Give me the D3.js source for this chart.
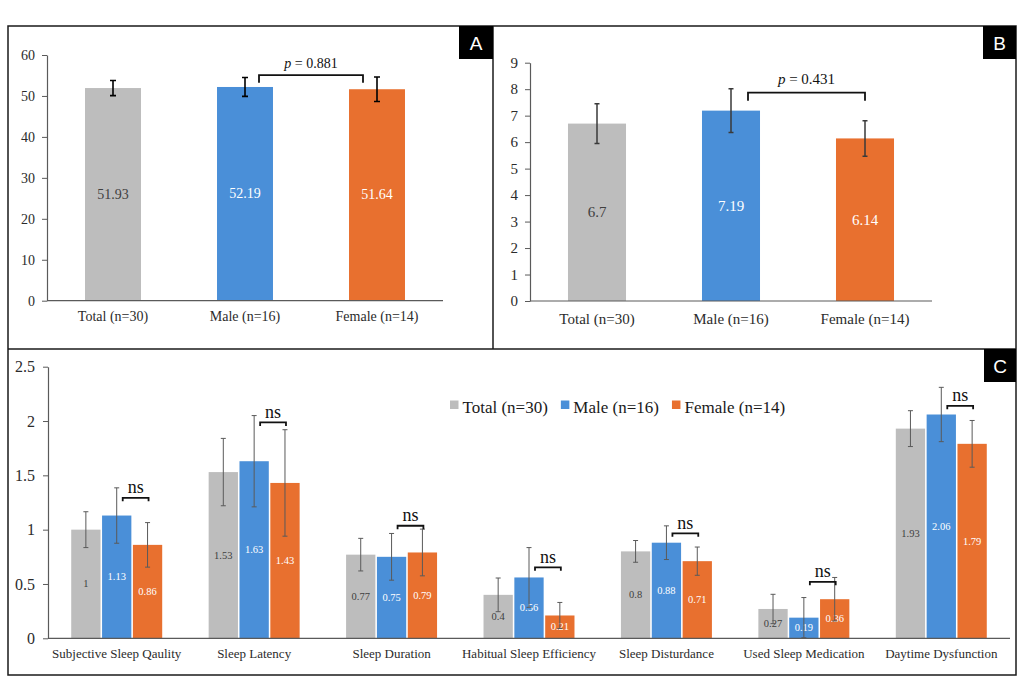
<!DOCTYPE html>
<html>
<head>
<meta charset="utf-8">
<script src="https://cdn.jsdelivr.net/npm/d3@7/dist/d3.min.js"></script>
<style>
  html, body { margin: 0; padding: 0; background: #fff; }
  svg { display: block; }
</style>
</head>
<body>
<script>
// ---------------- DATA ----------------
const groupsAB = ["Total (n=30)", "Male (n=16)", "Female (n=14)"];
const valuesA = [51.93, 52.19, 51.64];
const errorsA = [1.85, 2.3, 3.0];
const ticksA = [0, 10, 20, 30, 40, 50, 60];
const pTextA = "0.881";
const bracketA = [55.1, 53.2];   // bracket top / leg end (data units)

const valuesB = [6.7, 7.19, 6.14];
const errorsB = [0.75, 0.83, 0.67];
const ticksB = [0, 1, 2, 3, 4, 5, 6, 7, 8, 9];
const pTextB = "0.431";
const bracketB = [7.87, 7.56];

const categoriesC = ["Subjective Sleep Qaulity", "Sleep Latency", "Sleep Duration",
  "Habitual Sleep Efficiency", "Sleep Disturdance", "Used Sleep Medication", "Daytime Dysfunction"];
const seriesC = ["Total (n=30)", "Male (n=16)", "Female (n=14)"];
const totalC  = [1, 1.53, 0.77, 0.4, 0.8, 0.27, 1.93];
const maleC   = [1.13, 1.63, 0.75, 0.56, 0.88, 0.19, 2.06];
const femaleC = [0.86, 1.43, 0.79, 0.21, 0.71, 0.36, 1.79];
const totalErrC  = [0.165, 0.31, 0.15, 0.155, 0.10, 0.135, 0.165];
const maleErrC   = [0.255, 0.42, 0.215, 0.275, 0.155, 0.185, 0.25];
const femaleErrC = [0.205, 0.49, 0.215, 0.12, 0.13, 0.20, 0.215];
const nsLevelC = [1.293, 1.987, 1.036, 0.653, 0.966, 0.52, 2.14];
const ticksC = [0, 0.5, 1, 1.5, 2, 2.5];

// ---------------- STYLE ----------------
const colors = ["#BDBDBD", "#4A8FD8", "#E8702F"];
const labelColors = ["#404040", "#ffffff", "#ffffff"];
const serif = "'Liberation Serif', 'Times New Roman', serif";
const sans = "'Liberation Sans', Arial, sans-serif";

const svg = d3.select("body").append("svg").attr("width", 1024).attr("height", 700);
svg.append("rect").attr("width", 1024).attr("height", 700).attr("fill", "#fff");

// frame
const frame = svg.append("g").attr("stroke", "#1a1a1a").attr("stroke-width", 1.5).attr("fill", "none");
frame.append("rect").attr("x", 8).attr("y", 26).attr("width", 1008).attr("height", 649);
frame.append("line").attr("x1", 8).attr("x2", 1016).attr("y1", 349).attr("y2", 349);
frame.append("line").attr("x1", 493).attr("x2", 493).attr("y1", 26).attr("y2", 349);

function panelTag(x, y, w, h, t) {
  svg.append("rect").attr("x", x).attr("y", y).attr("width", w).attr("height", h).attr("fill", "#000");
  svg.append("text").attr("x", x + w / 2).attr("y", y + h / 2 + 1).attr("text-anchor", "middle")
    .attr("dominant-baseline", "central").attr("fill", "#fff")
    .attr("font-family", sans).attr("font-size", 19).text(t);
}

function styleAxis(g, fs) {
  g.selectAll(".domain").attr("stroke", "#5a5a5a").attr("stroke-width", 1.2);
  g.selectAll(".tick line").attr("stroke", "#5a5a5a").attr("stroke-width", 1);
  g.selectAll("text").attr("font-family", serif).attr("font-size", fs).attr("fill", "#2b2b2b");
}

function bracket(g, x1, x2, yTop, yLeg) {
  g.append("path")
    .attr("d", `M${x1},${yLeg}V${yTop}H${x2}V${yLeg}`)
    .attr("fill", "none").attr("stroke", "#111").attr("stroke-width", 1.8);
}

// ---------------- PANELS A & B ----------------
function simplePanel(opts) {
  const { xr, y0, yTop, max, ticks, values, errors, fs, xfs, vfs, pfs, xPad, pText, br, brX, errColor, errW, cap, pGap } = opts;
  const x = d3.scaleBand().domain(groupsAB).range(xr).paddingInner(opts.pi).paddingOuter(opts.pi / 2);
  const y = d3.scaleLinear().domain([0, max]).range([y0, yTop]);
  const g = svg.append("g");

  g.selectAll("rect.bar").data(values).join("rect")
    .attr("x", (d, i) => x(groupsAB[i])).attr("width", x.bandwidth())
    .attr("y", d => y(d)).attr("height", d => y(0) - y(d))
    .attr("fill", (d, i) => colors[i]);

  const ya = g.append("g").attr("transform", `translate(${xr[0]},0)`)
    .call(d3.axisLeft(y).tickValues(ticks).tickSize(5).tickSizeOuter(0).tickPadding(7));
  styleAxis(ya, fs);

  const xa = g.append("g").attr("transform", `translate(0,${y0})`)
    .call(d3.axisBottom(x).tickSize(0).tickSizeOuter(0).tickPadding(xPad));
  styleAxis(xa, xfs);
  xa.select(".domain").attr("d", `M${xr[0]},0H${xr[1]}`);

  // value labels
  g.selectAll("text.val").data(values).join("text")
    .attr("x", (d, i) => x(groupsAB[i]) + x.bandwidth() / 2)
    .attr("y", d => y(d / 2))
    .attr("text-anchor", "middle").attr("dominant-baseline", "central")
    .attr("font-family", serif).attr("font-size", vfs)
    .attr("fill", (d, i) => labelColors[i]).text(d => d);

  // error bars
  values.forEach((v, i) => {
    const cx = x(groupsAB[i]) + x.bandwidth() / 2;
    const t = y(v + errors[i]), b = y(v - errors[i]);
    g.append("path").attr("d", `M${cx},${t}V${b}M${cx - cap},${t}H${cx + cap}M${cx - cap},${b}H${cx + cap}`)
      .attr("stroke", errColor).attr("stroke-width", errW).attr("fill", "none");
  });

  // p bracket
  const bx1 = x(groupsAB[1]) + x.bandwidth() / 2 + brX[0];
  const bx2 = x(groupsAB[2]) + x.bandwidth() / 2 + brX[1];
  bracket(g, bx1, bx2, y(br[0]), y(br[1]));
  const pt = g.append("text").attr("x", (bx1 + bx2) / 2).attr("y", y(br[0]) - pGap)
    .attr("text-anchor", "middle").attr("font-family", serif).attr("font-size", pfs).attr("fill", "#111");
  pt.append("tspan").attr("font-style", "italic").text("p");
  pt.append("tspan").text(" = " + pText);
}

simplePanel({ xr: [47, 443], y0: 300.7, yTop: 55, max: 60, ticks: ticksA, values: valuesA, errors: errorsA,
  pi: 0.576, fs: 14, xfs: 14, vfs: 14, pfs: 14, xPad: 10, pText: pTextA, br: bracketA, brX: [14, -14],
  errColor: "#000", errW: 1.6, cap: 3, pGap: 7 });
simplePanel({ xr: [530, 932], y0: 301, yTop: 62.7, max: 9, ticks: ticksB, values: valuesB, errors: errorsB,
  pi: 0.567, fs: 15, xfs: 15, vfs: 15, pfs: 15, xPad: 12, pText: pTextB, br: bracketB, brX: [17, 0],
  errColor: "#3a3a3a", errW: 1.5, cap: 2.5, pGap: 9 });

panelTag(459, 26, 34, 33, "A");
panelTag(983, 26, 33, 33, "B");

// ---------------- PANEL C ----------------
(function () {
  const xr = [48, 1010], y0 = 638.3, yTop = 366.7;
  const x0 = d3.scaleBand().domain(categoriesC).range(xr).paddingInner(0.338).paddingOuter(0.169);
  const x1 = d3.scaleBand().domain(seriesC).range([0, x0.bandwidth()]).paddingInner(0.05);
  const y = d3.scaleLinear().domain([0, 2.5]).range([y0, yTop]);
  const vals = [totalC, maleC, femaleC];
  const errs = [totalErrC, maleErrC, femaleErrC];
  const g = svg.append("g");

  const rows = [];
  categoriesC.forEach((c, ci) => seriesC.forEach((s, si) => rows.push({ c, s, si, v: vals[si][ci], e: errs[si][ci] })));

  g.selectAll("rect.bar").data(rows).join("rect")
    .attr("x", d => x0(d.c) + x1(d.s)).attr("width", x1.bandwidth())
    .attr("y", d => y(d.v)).attr("height", d => y(0) - y(d.v))
    .attr("fill", d => colors[d.si]);

  const ya = g.append("g").attr("transform", `translate(${xr[0]},0)`)
    .call(d3.axisLeft(y).tickValues(ticksC).tickFormat(d3.format("")).tickSize(5).tickSizeOuter(0).tickPadding(8));
  styleAxis(ya, 16);

  const xa = g.append("g").attr("transform", `translate(0,${y0})`)
    .call(d3.axisBottom(x0).tickSize(0).tickSizeOuter(0).tickPadding(10));
  styleAxis(xa, 13);
  xa.select(".domain").attr("d", `M${xr[0]},0H${xr[1]}`);

  g.selectAll("text.val").data(rows).join("text")
    .attr("x", d => x0(d.c) + x1(d.s) + x1.bandwidth() / 2)
    .attr("y", d => y(d.v / 2))
    .attr("text-anchor", "middle").attr("dominant-baseline", "central")
    .attr("font-family", serif).attr("font-size", 10.5)
    .attr("fill", d => labelColors[d.si]).text(d => d.v);

  rows.forEach(d => {
    const cx = x0(d.c) + x1(d.s) + x1.bandwidth() / 2;
    const t = y(d.v + d.e), b = y(Math.max(0, d.v - d.e));
    g.append("path").attr("d", `M${cx},${t}V${b}M${cx - 2.5},${t}H${cx + 2.5}M${cx - 2.5},${b}H${cx + 2.5}`)
      .attr("stroke", "#5a5a5a").attr("stroke-width", 1).attr("fill", "none");
  });

  categoriesC.forEach((c, ci) => {
    const bx1 = x0(c) + x1(seriesC[1]) + x1.bandwidth() / 2 + 6;
    const bx2 = x0(c) + x1(seriesC[2]) + x1.bandwidth() / 2 + 1;
    const yb = y(nsLevelC[ci]);
    bracket(g, bx1, bx2, yb, yb + 3.5);
    g.append("text").attr("x", (bx1 + bx2) / 2).attr("y", yb - 4.5)
      .attr("text-anchor", "middle").attr("font-family", serif).attr("font-size", 18)
      .attr("fill", "#111").text("ns");
  });

  // legend
  const leg = g.append("g").attr("transform", "translate(450,413)");
  let lx = 0;
  seriesC.forEach((s, i) => {
    leg.append("rect").attr("x", lx).attr("y", -12.5).attr("width", 8.5).attr("height", 8.5).attr("fill", colors[i]);
    const t = leg.append("text").attr("x", lx + 12.5).attr("y", 0)
      .attr("font-family", serif).attr("font-size", 17).attr("fill", "#1a1a1a").text(s);
    lx += 12.5 + t.node().getComputedTextLength() + 13;
  });

  panelTag(984, 349, 32, 33, "C");
})();
</script>
</body>
</html>
